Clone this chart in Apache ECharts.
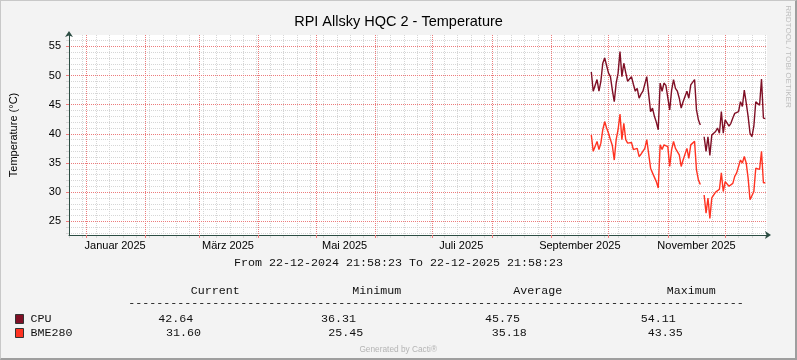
<!DOCTYPE html>
<html><head><meta charset="utf-8">
<script src="https://cdn.jsdelivr.net/npm/echarts@6/dist/echarts.min.js"></script>
<style>
html,body{margin:0;padding:0;background:#F3F3F3}
#wrap{position:relative;width:797px;height:360px}
#c{width:797px;height:360px}
#b{position:absolute;left:0;top:0;width:797px;height:360px;box-sizing:border-box;border-left:1px solid #C8C8C8;border-top:1px solid #C8C8C8;border-right:2px solid #9E9E9E;border-bottom:2px solid #9E9E9E;pointer-events:none}
</style></head><body>
<div id="wrap"><div id="c"></div><div id="b"></div></div>
<script>
// ---------- data ----------
const chartTitle = 'RPI Allsky HQC 2 - Temperature';
const yAxisName = 'Temperature (°C)';
const periodText = 'From 22-12-2024 21:58:23 To 22-12-2025 21:58:23';
const seriesNames = ['CPU', 'BME280'];
const firstDay = [2025, 8, 22];           // 22 Sep 2025, one value per day
const cpu = [50.6,47.3,47.3,49.3,47.3,49.0,52.1,53.0,52.7,50.4,
             49.8,47.5,45.5,48.7,50.4,54.1,49.8,52.1,50.5,49.0,
             48.7,49.8,48.5,47.3,47.8,46.1,46.8,47.3,47.0,49.8,
             49.8,43.8,44.4,43.0,42.0,40.7,48.7,47.3,48.7,48.3,
             48.1,44.1,47.5,49.3,47.8,47.3,46.1,44.4,45.5,45.8,
             47.3,46.1,48.4,48.4,49.3,44.1,42.4,41.5,null,39.5,
             37.0,39.5,36.3,39.8,40.1,40.4,41.0,40.1,43.8,40.1,
             42.4,42.4,41.3,41.8,42.7,43.5,43.8,43.8,45.5,44.7,
             47.5,45.3,43.0,40.1,39.5,41.3,45.5,45.3,44.9,49.4,
             42.7,42.6];
const bme = [39.8,37.0,37.3,38.7,37.3,38.4,40.7,42.1,41.0,40.1,
             39.0,38.0,35.5,39.0,40.7,43.4,39.0,41.8,39.0,38.4,
             38.1,38.5,37.3,37.4,37.5,36.1,36.5,36.7,37.5,39.0,
             39.3,34.1,33.3,33.0,31.8,30.7,38.1,37.3,38.1,37.9,
             37.8,34.4,37.3,38.7,37.5,37.3,36.4,34.4,35.5,35.8,
             37.5,35.8,38.1,38.4,38.7,33.8,32.1,31.3,null,29.5,
             26.4,29.0,25.5,29.0,29.3,30.0,29.8,30.5,33.3,30.1,
             31.8,32.1,31.0,31.3,31.5,32.7,33.3,33.5,35.5,35.0,
             36.1,35.0,32.4,28.7,28.4,30.1,34.1,34.1,33.9,37.0,
             31.6,31.6];
const statHeaders = ['Current', 'Minimum', 'Average', 'Maximum'];
const cpuStats = ['42.64', '36.31', '45.75', '54.11'];
const bmeStats = ['31.60', '25.45', '35.18', '43.35'];
const yMajorTicks = [25, 30, 35, 40, 45, 50, 55];
const monthLabels = ['Januar 2025', 'März 2025', 'Mai 2025', 'Juli 2025', 'September 2025', 'November 2025'];
const monthLabelIdx = [0, 2, 4, 6, 8, 10];
const footer = 'Generated by Cacti®';
const sideText = 'RRDTOOL / TOBI OETIKER';

// ---------- derived ----------
const DAY = 86400000;
const startMs = Date.UTC(2024, 11, 22, 20, 58, 23);
const endMs = Date.UTC(2025, 11, 22, 20, 58, 23);
const toPairs = arr => arr.map((v, i) => [Date.UTC(firstDay[0], firstDay[1], firstDay[2] + i), v]);
const monthStarts = [];
for (let m = 0; m < 12; m++) monthStarts.push(Date.UTC(2025, m, 1));
const labelTs = monthLabelIdx.map(m => Date.UTC(2025, m, 16));
const labelMap = {};
labelTs.forEach((t, i) => { labelMap[t] = monthLabels[i]; });
const weekTicks = [];
for (let t = Date.UTC(2024, 11, 23); t <= endMs; t += 7 * DAY) weekTicks.push(t);
const yMinor = [];
for (let v = 23; v <= 56; v++) if (v % 5 !== 0) yMinor.push(v);

const AXIS = '#2C4D43';
const MGRID = '#EC7C7C';
const GRID = '#D6D6D6';
const Y_MIN = 22.65, Y_MAX = 56.94;
const SANS = '"Liberation Sans", Arial, sans-serif';
const MONO = '"Liberation Mono", "Courier New", monospace';

const chart = echarts.init(document.getElementById('c'), null, { renderer: 'canvas' });

const monoText = (txt, x, y, align) => ({
  type: 'text', x: x, y: y, silent: true,
  style: { text: txt, fill: '#111', font: '11.67px ' + MONO, align: align || 'left', verticalAlign: 'middle',
           textAlign: align || 'left', textVerticalAlign: 'middle' }
});

const graphics = [
  monoText(periodText, 398.5, 262.7, 'center'),
  monoText(statHeaders[0], 190.7, 290.7),
  monoText(statHeaders[1], 352.3, 290.7),
  monoText(statHeaders[2], 513.3, 290.7),
  monoText(statHeaders[3], 666.7, 290.7),
  monoText('-'.repeat(88), 128.3, 303.0),
  monoText(cpuStats[0], 158.3, 318.9),
  monoText(cpuStats[1], 321.0, 318.9),
  monoText(cpuStats[2], 485.0, 318.9),
  monoText(cpuStats[3], 640.7, 318.9),
  monoText(bmeStats[0], 166.0, 332.9),
  monoText(bmeStats[1], 328.3, 332.9),
  monoText(bmeStats[2], 491.7, 332.9),
  monoText(bmeStats[3], 647.7, 332.9),
  { type: 'text', x: 398.2, y: 349.5, silent: true,
    style: { text: footer, fill: '#B4B4B4', font: '8.3px ' + SANS, align: 'center', verticalAlign: 'middle', textAlign: 'center', textVerticalAlign: 'middle' } },
  { type: 'text', x: 788.5, y: 56.5, rotation: -Math.PI / 2, silent: true,
    style: { text: sideText, fill: '#BDBDBD', font: '8.1px ' + SANS, align: 'center', verticalAlign: 'middle', textAlign: 'center', textVerticalAlign: 'middle' } }
];

const option = {
  animation: false,
  backgroundColor: '#F3F3F3',
  title: {
    text: chartTitle, left: 'center', top: 14, padding: 0,
    textStyle: { fontFamily: SANS, fontSize: 14.5, fontWeight: 'normal', color: '#000' }
  },
  legend: {
    data: seriesNames, orient: 'vertical', left: 15, top: 312, padding: 0,
    itemWidth: 8, itemHeight: 9, itemGap: 0, icon: 'rect', selectedMode: false,
    itemStyle: { borderColor: '#333', borderWidth: 1 },
    textStyle: { fontFamily: MONO, fontSize: 11.67, color: '#111', lineHeight: 14, padding: [0, 0, 0, 2] }
  },
  grid: { left: 67, right: 30, top: 35, bottom: 125, show: true, backgroundColor: '#FFFFFF', borderWidth: 0, containLabel: false },
  xAxis: [
    { type: 'value', min: startMs, max: endMs, position: 'bottom', z: 0,
      axisLine: { show: false }, axisLabel: { show: false },
      axisTick: { show: true, customValues: weekTicks, length: 3, lineStyle: { color: GRID } },
      splitLine: { show: true, lineStyle: { color: GRID, type: [1, 1], width: 1 } } },
    { type: 'value', min: startMs, max: endMs, position: 'bottom', z: 1,
      axisLine: { show: true, onZero: false, symbol: ['none', 'arrow'], symbolSize: [6, 6], symbolOffset: [0, 4],
                  lineStyle: { color: AXIS, width: 1 } },
      axisTick: { show: true, customValues: monthStarts, length: 3, lineStyle: { color: MGRID } },
      axisLabel: { show: true, customValues: labelTs, margin: 5, color: '#000', fontFamily: SANS, fontSize: 11,
                   formatter: v => labelMap[v] || '' },
      splitLine: { show: true, lineStyle: { color: MGRID, type: [1, 1], width: 1 } } }
  ],
  yAxis: [
    { type: 'value', min: Y_MIN, max: Y_MAX, position: 'left', z: 0,
      axisLine: { show: false }, axisLabel: { show: false },
      axisTick: { show: true, customValues: yMinor, length: 3, lineStyle: { color: GRID } },
      splitLine: { show: true, lineStyle: { color: GRID, type: [1, 1], width: 1 } } },
    { type: 'value', min: Y_MIN, max: Y_MAX, position: 'left', z: 1,
      name: yAxisName, nameLocation: 'middle', nameGap: 50, nameRotate: 90,
      nameTextStyle: { fontFamily: SANS, fontSize: 11, color: '#000' },
      axisLine: { show: true, onZero: false, symbol: ['none', 'arrow'], symbolSize: [6, 6], symbolOffset: [0, 4],
                  lineStyle: { color: AXIS, width: 1 } },
      axisTick: { show: true, customValues: yMajorTicks, length: 3, lineStyle: { color: MGRID } },
      axisLabel: { show: true, customValues: yMajorTicks, margin: 8, color: '#000', fontFamily: SANS, fontSize: 11 },
      splitLine: { show: true, lineStyle: { color: MGRID, type: [1, 1], width: 1 } } }
  ],
  series: [
    { name: seriesNames[0], type: 'line', xAxisIndex: 1, yAxisIndex: 1, data: toPairs(cpu),
      showSymbol: false, symbol: 'none', connectNulls: false, z: 3,
      itemStyle: { color: '#7F0F25' }, lineStyle: { color: '#7F0F25', width: 1.4 } },
    { name: seriesNames[1], type: 'line', xAxisIndex: 1, yAxisIndex: 1, data: toPairs(bme),
      showSymbol: false, symbol: 'none', connectNulls: false, z: 3,
      itemStyle: { color: '#FF3322' }, lineStyle: { color: '#FF3322', width: 1.4 } }
  ],
  graphic: graphics
};
chart.setOption(option);
</script>
</body></html>
